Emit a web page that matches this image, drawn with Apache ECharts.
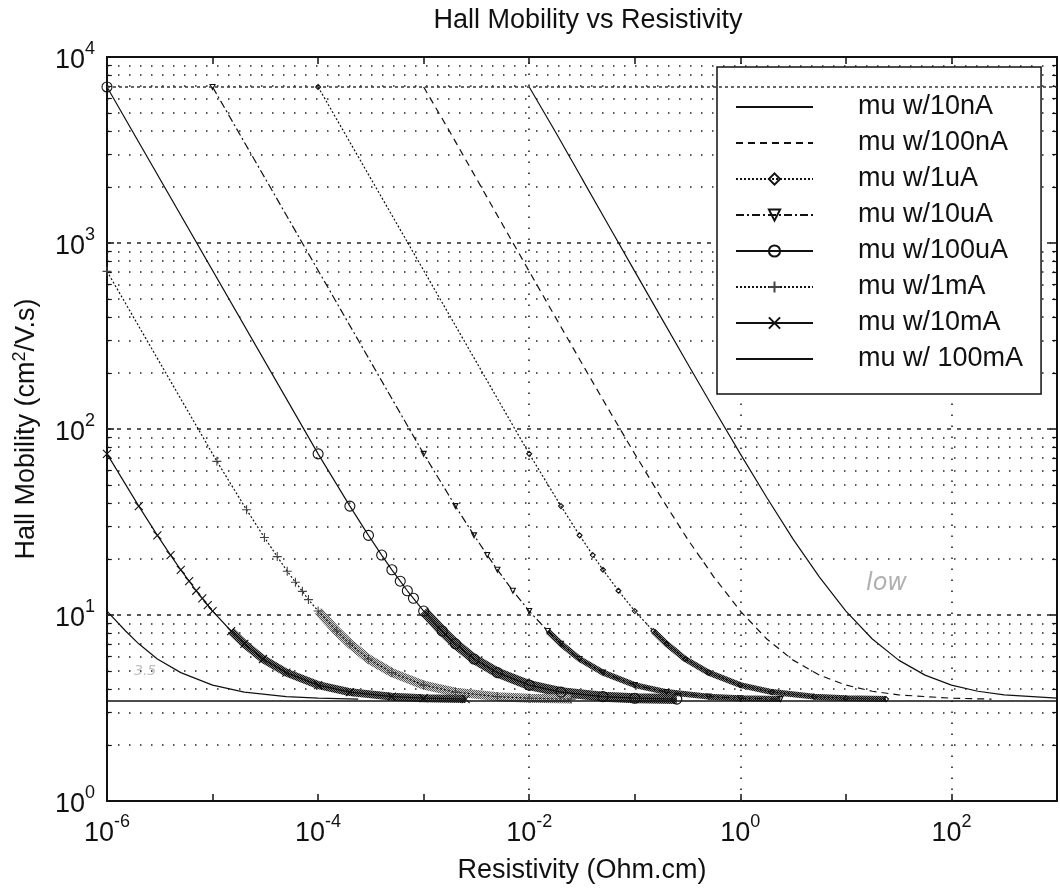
<!DOCTYPE html>
<html>
<head>
<meta charset="utf-8">
<script src="https://cdn.jsdelivr.net/npm/echarts@6/dist/echarts.min.js"></script>
<style>
  html, body { margin: 0; background: #fff; }
  #hall { width: 1060px; height: 896px; }
</style>
</head>
<body>
<div id="hall"></div>
<script>
// values: resistivity (Ohm.cm) -> Hall mobility (cm2/V.s)
var rho10nA  = [0.01, 0.0178, 0.0316, 0.0562, 0.1, 0.178, 0.316, 0.562, 1, 1.78, 3.16, 5.62, 10, 17.8, 31.6, 56.2, 100, 178, 316, 1000];
var mu10nA   = [6900, 3940, 2220, 1250, 704, 397, 225, 128, 73.5, 42.8, 25.6, 16.0, 10.5, 7.43, 5.72, 4.75, 4.20, 3.89, 3.72, 3.57];
var rho100nA = [0.001, 0.00178, 0.00316, 0.00562, 0.01, 0.0178, 0.0316, 0.0562, 0.1, 0.178, 0.316, 0.562, 1, 1.78, 3.16, 5.62, 10, 17.8, 31.6, 100, 240];
var mu100nA  = [6900, 3940, 2220, 1250, 704, 397, 225, 128, 73.5, 42.8, 25.6, 16.0, 10.5, 7.43, 5.72, 4.75, 4.20, 3.89, 3.72, 3.57, 3.53];
var rho1uA   = [1e-4, 0.01, 0.02, 0.03, 0.04, 0.05, 0.07, 0.1, 0.15, 0.2, 0.3, 0.5, 1, 2, 5, 10, 24];
var mu1uA    = [6900, 73.5, 38.5, 26.8, 21.0, 17.5, 13.5, 10.5, 8.2, 7.0, 5.8, 4.9, 4.2, 3.85, 3.64, 3.57, 3.53];
var rho10uA  = [1e-5, 0.001, 0.002, 0.003, 0.004, 0.005, 0.007, 0.01, 0.015, 0.02, 0.03, 0.05, 0.1, 0.2, 0.5, 1, 2.4];
var mu10uA   = [6900, 73.5, 38.5, 26.8, 21.0, 17.5, 13.5, 10.5, 8.2, 7.0, 5.8, 4.9, 4.2, 3.85, 3.64, 3.57, 3.53];
var rho100uA = [1e-6, 1e-4, 2e-4, 3e-4, 4e-4, 5e-4, 6e-4, 7e-4, 8e-4, 0.001, 0.0015, 0.002, 0.003, 0.005, 0.01, 0.02, 0.05, 0.1, 0.25];
var mu100uA  = [6900, 73.5, 38.5, 26.8, 21.0, 17.5, 15.2, 13.5, 12.3, 10.5, 8.2, 7.0, 5.8, 4.9, 4.2, 3.85, 3.64, 3.57, 3.53];
var rho1mA   = [1e-6, 1.1e-5, 2.1e-5, 3.1e-5, 4.1e-5, 5.1e-5, 6.1e-5, 7.1e-5, 8.1e-5, 1e-4, 1.5e-4, 2e-4, 3e-4, 5e-4, 0.001, 0.002, 0.005, 0.01, 0.025];
var mu1mA    = [704, 67.0, 36.8, 26.1, 20.6, 17.2, 15.0, 13.4, 12.1, 10.5, 8.2, 7.0, 5.8, 4.9, 4.2, 3.85, 3.64, 3.57, 3.53];
var rho10mA  = [1e-6, 2e-6, 3e-6, 4e-6, 5e-6, 6e-6, 7e-6, 8e-6, 9e-6, 1e-5, 1.5e-5, 2e-5, 3e-5, 5e-5, 1e-4, 2e-4, 5e-4, 0.001, 0.0025];
var mu10mA   = [73.5, 38.5, 26.8, 21.0, 17.5, 15.2, 13.5, 12.3, 11.3, 10.5, 8.2, 7.0, 5.8, 4.9, 4.2, 3.85, 3.64, 3.57, 3.53];
var rho100mA = [1e-6, 1.5e-6, 2e-6, 3e-6, 5e-6, 1e-5, 2e-5, 5e-5, 1e-4, 2.4e-4];
var mu100mA  = [10.5, 8.2, 7.0, 5.8, 4.9, 4.2, 3.85, 3.64, 3.57, 3.53];
var rhoFloor = [1e-6, 1000];
var muFloor  = [3.45, 3.45];
var muTopLine = 6900;

var names = ['mu w/10nA', 'mu w/100nA', 'mu w/1uA', 'mu w/10uA', 'mu w/100uA', 'mu w/1mA', 'mu w/10mA', 'mu w/ 100mA'];

var FONT = '"Liberation Sans", Arial, Helvetica, sans-serif';
var INK = '#111';

function pairs(xs, ys) {
  return xs.map(function (x, i) { return [x, ys[i]]; });
}

function hatch(a, b) {
  var c = document.createElement('canvas');
  c.width = 2; c.height = 2;
  var g = c.getContext('2d');
  g.fillStyle = b; g.fillRect(0, 0, 2, 2);
  g.fillStyle = a; g.fillRect(0, 0, 1, 1); g.fillRect(1, 1, 1, 1);
  return { image: c, repeat: 'repeat' };
}

var PLUS = 'path://M5,0L5,10M0,5L10,5';
var CROSS = 'path://M0,0L10,10M10,0L0,10';
var TRI = 'path://M0,0L10,0L5,9Z';

// line styles, markers and where dense markers merge into a band
var look = [
  { type: 'solid' },
  { type: [7, 5] },
  { type: [2, 2], symbol: 'diamond', size: 5, band: [0.15, 24], bw: 6 },
  { type: [8, 3, 2, 3], symbol: TRI, size: 5, band: [0.015, 2.4], bw: 6 },
  { type: 'solid', symbol: 'circle', size: 10, band: [0.001, 0.25], bw: 10 },
  { type: [2, 2], symbol: PLUS, size: 9, band: [1e-4, 0.025], bw: 9, light: true },
  { type: 'solid', symbol: CROSS, size: 8, band: [1.2e-5, 0.0025], bw: 8 },
  { type: 'solid' }
];
var curves = [
  pairs(rho10nA, mu10nA), pairs(rho100nA, mu100nA), pairs(rho1uA, mu1uA), pairs(rho10uA, mu10uA),
  pairs(rho100uA, mu100uA), pairs(rho1mA, mu1mA), pairs(rho10mA, mu10mA), pairs(rho100mA, mu100mA)
];

var series = [];
curves.forEach(function (pts, i) {
  var L = look[i];
  series.push({
    name: names[i],
    type: 'line',
    data: pts,
    z: 3,
    silent: true,
    symbol: L.symbol || 'circle',
    symbolSize: L.size || 1,
    showSymbol: !!L.symbol,
    lineStyle: { color: INK, width: 1.2, type: L.type },
    itemStyle: {
      color: 'rgba(0,0,0,0)',
      borderColor: L.symbol ? (L.light ? '#444' : INK) : 'rgba(0,0,0,0)',
      borderWidth: L.symbol ? 1.1 : 0
    },
    emphasis: { disabled: true }
  });
  if (L.band) {
    series.push({
      name: 'band ' + names[i],
      type: 'line',
      data: pts.filter(function (p) { return p[0] >= L.band[0] && p[0] <= L.band[1]; }),
      z: 2,
      silent: true,
      symbol: 'none',
      lineStyle: { width: L.bw, color: L.light ? hatch('#555', '#d0d0d0') : hatch('#111', '#7a7a7a'), cap: 'butt', join: 'round' },
      emphasis: { disabled: true }
    });
  }
});

// grid: dotted lines at every 1..9 x decade on the mobility axis, every second decade on resistivity
var minorStyle = { color: '#222', width: 1.6, type: [1.5, 9.5] };
var majorStyle = { color: '#222', width: 1.6, type: [4, 6] };
var gridLines = [];
var tickSegs = [];
[1, 10, 100, 1000].forEach(function (d) {
  for (var k = 2; k <= 9; k++) {
    gridLines.push({ yAxis: k * d, lineStyle: minorStyle });
    tickSegs.push([{ coord: [1e-6, k * d] }, { coord: [1.11e-6, k * d] }]);
    tickSegs.push([{ coord: [900, k * d] }, { coord: [1000, k * d] }]);
  }
});
[10, 100, 1000].forEach(function (v) { gridLines.push({ yAxis: v, lineStyle: majorStyle }); });
[1e-4, 1e-2, 1, 100].forEach(function (v) { gridLines.push({ xAxis: v, lineStyle: minorStyle }); });

series.push({
  name: 'floor',
  type: 'line',
  data: pairs(rhoFloor, muFloor),
  z: 2,
  silent: true,
  symbol: 'none',
  lineStyle: { color: INK, width: 1.4 },
  emphasis: { disabled: true },
  markLine: {
    silent: true, symbol: 'none', z: 1, animation: false,
    label: { show: false },
    lineStyle: { color: INK, width: 1.2, type: 'solid' },
    data: gridLines.concat(tickSegs)
  }
});
series.push({
  name: 'top',
  type: 'line',
  data: [],
  silent: true,
  markLine: {
    silent: true, symbol: 'none', z: 6, animation: false,
    label: { show: false },
    data: [{ yAxis: muTopLine, lineStyle: { color: '#333', width: 1.5, type: [3, 3] } }]
  }
});

function power(v) {
  return '{b|10}{e|' + Math.round(Math.log10(v)) + '}';
}
var labelRich = {
  b: { fontSize: 27, fontFamily: FONT, color: INK, lineHeight: 34, verticalAlign: 'bottom' },
  e: { fontSize: 18, fontFamily: FONT, color: INK, lineHeight: 18, verticalAlign: 'top' }
};
var axisLine = { show: true, lineStyle: { color: INK, width: 2 } };
var axisTick = { show: true, inside: true, length: 7, lineStyle: { color: INK, width: 1.5 } };

var hallChart = echarts.init(document.getElementById('hall'));
var option = {
  animation: false,
  backgroundColor: '#fff',
  title: {
    text: 'Hall Mobility vs Resistivity',
    left: 583,
    top: 2,
    textAlign: 'center',
    textStyle: { fontFamily: FONT, fontSize: 27, fontWeight: 'normal', color: INK }
  },
  legend: {
    data: names,
    orient: 'vertical',
    left: 717,
    top: 67,
    padding: [26, 18, 21, 18],
    itemGap: 8,
    itemWidth: 77,
    itemHeight: 14,
    selectedMode: false,
    backgroundColor: '#fff',
    borderColor: INK,
    borderWidth: 1.5,
    formatter: '{g| }{name}',
    textStyle: {
      fontFamily: FONT, fontSize: 27, color: INK, lineHeight: 28,
      rich: { g: { width: 40 } }
    }
  },
  grid: { left: 107, right: 2, top: 57, bottom: 95, show: false },
  xAxis: [{
    type: 'log', logBase: 10, min: 1e-6, max: 1000,
    position: 'bottom',
    name: 'Resistivity (Ohm.cm)',
    nameLocation: 'middle',
    nameGap: 56,
    nameTextStyle: { fontFamily: FONT, fontSize: 27, color: INK },
    axisLine: axisLine, axisTick: axisTick,
    axisLabel: {
      margin: 12,
      formatter: function (v) { return Math.round(Math.log10(v)) % 2 === 0 ? power(v) : ''; },
      rich: labelRich
    },
    splitLine: { show: false }
  }, {
    type: 'log', logBase: 10, min: 1e-6, max: 1000,
    position: 'top',
    axisLine: axisLine, axisTick: axisTick,
    axisLabel: { show: false },
    splitLine: { show: false }
  }],
  yAxis: [{
    type: 'log', logBase: 10, min: 1, max: 10000,
    position: 'left',
    name: 'Hall Mobility (cm{s|2}/V.s)',
    nameLocation: 'middle',
    nameGap: 64,
    nameTextStyle: {
      fontFamily: FONT, fontSize: 27, color: INK, lineHeight: 32,
      rich: { s: { fontFamily: FONT, fontSize: 18, color: INK, lineHeight: 32, verticalAlign: 'top' } }
    },
    axisLine: axisLine, axisTick: axisTick,
    axisLabel: { margin: 12, formatter: power, rich: labelRich },
    splitLine: { show: false }
  }, {
    type: 'log', logBase: 10, min: 1, max: 10000,
    position: 'right',
    axisLine: axisLine, axisTick: axisTick,
    axisLabel: { show: false },
    splitLine: { show: false }
  }],
  graphic: [
    { type: 'text', left: 866, top: 572, silent: true,
      style: { text: 'low', font: 'italic 24px "DejaVu Sans", sans-serif', fill: '#b0b0b0' } },
    { type: 'text', left: 134, top: 664, silent: true,
      style: { text: '3.5', font: 'italic 14px "DejaVu Sans", sans-serif', fill: '#c0c0c0' } }
  ],
  series: series
};
hallChart.setOption(option);
window.addEventListener('resize', hallChart.resize);
</script>
</body>
</html>
